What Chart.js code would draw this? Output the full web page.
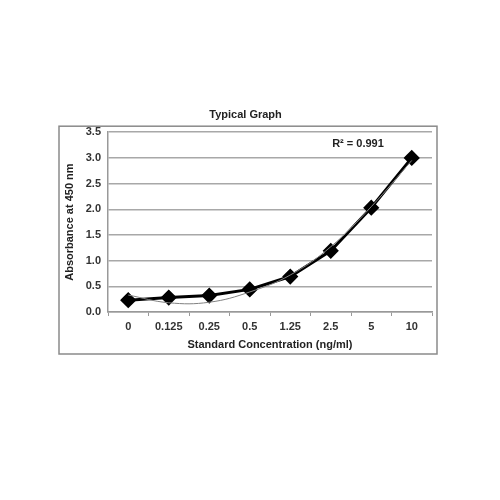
<!DOCTYPE html>
<html>
<head>
<meta charset="utf-8">
<script src="https://cdn.jsdelivr.net/npm/chart.js@4.4.1/dist/chart.umd.min.js"></script>
<style>
  html, body { margin: 0; padding: 0; background: #fff; }
  #wrap { width: 500px; height: 500px; }
</style>
</head>
<body>
<div id="wrap"><canvas id="typicalGraph" width="500" height="500"></canvas></div>
<script>
// 標準濃度（カテゴリ）
const concentrations = ['0', '0.125', '0.25', '0.5', '1.25', '2.5', '5', '10'];
// 実測吸光度
const absorbance = [0.23, 0.28, 0.32, 0.44, 0.69, 1.19, 2.03, 3.0];
// 近似曲線（細い灰色線）
const trendline = [0.33, 0.18, 0.19, 0.39, 0.72, 1.27, 2.05, 2.95];
const rSquaredText = 'R² = 0.991';

const fontFamily = '"Liberation Sans", Arial, sans-serif';
const textColor = '#333';

// 外枠と R² ラベルを描く
const frameAndLabel = {
  id: 'frameAndLabel',
  afterDraw(chart) {
    const { ctx, chartArea } = chart;
    ctx.save();
    ctx.strokeStyle = '#8a8a8a';
    ctx.lineWidth = 1.5;
    ctx.strokeRect(chartArea.left - 49, chartArea.top - 6, (chartArea.right - chartArea.left) + 54, (chartArea.bottom - chartArea.top) + 48);
    ctx.fillStyle = '#222';
    ctx.font = 'bold 11px ' + fontFamily;
    ctx.textAlign = 'center';
    ctx.textBaseline = 'middle';
    ctx.fillText(rSquaredText, chartArea.right - 74, chartArea.top + 12);
    ctx.restore();
  }
};

const ctx = document.getElementById('typicalGraph').getContext('2d');
new Chart(ctx, {
  type: 'line',
  data: {
    labels: concentrations,
    datasets: [
      {
        label: 'Trendline',
        data: trendline,
        borderColor: '#808080',
        borderWidth: 1,
        pointRadius: 0,
        tension: 0.4,
        fill: false,
        order: 0
      },
      {
        label: 'Absorbance',
        data: absorbance,
        borderColor: '#000',
        backgroundColor: '#000',
        borderWidth: 3,
        pointStyle: 'rectRot',
        pointRadius: 6,
        tension: 0,
        fill: false,
        order: 1
      }
    ]
  },
  options: {
    responsive: false,
    animation: false,
    layout: { padding: { left: 59, right: 68, top: 108, bottom: 146 } },
    plugins: {
      legend: { display: false },
      tooltip: { enabled: false },
      title: {
        display: true,
        text: 'Typical Graph',
        color: '#222',
        font: { family: fontFamily, size: 11, weight: 'bold' },
        padding: { top: 0, bottom: 11 }
      }
    },
    scales: {
      x: {
        offset: true,
        grid: { drawOnChartArea: false, drawTicks: true, tickLength: 4, offset: true, color: '#999' },
        border: { color: '#999', width: 1.5 },
        ticks: { color: textColor, padding: 4, font: { family: fontFamily, size: 11, weight: 'bold' } },
        title: {
          display: true,
          text: 'Standard Concentration (ng/ml)',
          color: '#222',
          font: { family: fontFamily, size: 11, weight: 'bold' },
          padding: { top: 4, bottom: 2 }
        },
        afterFit(scale) { scale.height = 42; }
      },
      y: {
        min: 0,
        max: 3.5,
        ticks: {
          stepSize: 0.5,
          color: textColor,
          padding: 7,
          font: { family: fontFamily, size: 11, weight: 'bold' },
          callback: (v) => Number(v).toFixed(1)
        },
        grid: { color: '#a8a8a8', lineWidth: 1.5, drawTicks: false },
        border: { color: '#999', width: 1.5 },
        title: {
          display: true,
          text: 'Absorbance at 450 nm',
          color: '#222',
          font: { family: fontFamily, size: 11, weight: 'bold' },
          padding: { top: 4, bottom: 4 }
        },
        afterFit(scale) { scale.width = 49; }
      }
    }
  },
  plugins: [frameAndLabel]
});
</script>
</body>
</html>
